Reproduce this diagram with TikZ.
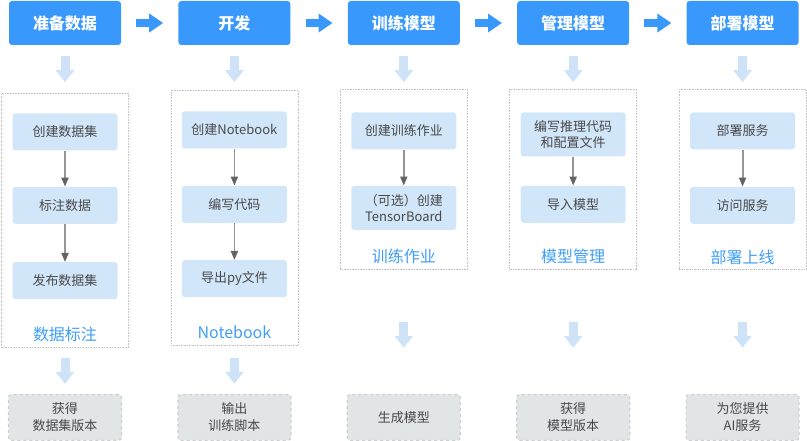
\documentclass[tikz,border=0pt]{standalone}
\usepackage{fontspec}
\setmainfont{Noto Sans CJK SC}
\usetikzlibrary{positioning,arrows.meta}
\usepackage{xcolor}
\definecolor{topblue}{RGB}{56,152,252}
\definecolor{boxblue}{RGB}{210,230,250}
\definecolor{fatblue}{RGB}{207,227,248}
\definecolor{labelblue}{RGB}{64,158,245}
\definecolor{textgray}{RGB}{72,72,72}
\definecolor{linegray}{RGB}{150,150,150}
\definecolor{tipgray}{RGB}{100,100,100}
\definecolor{panelgray}{RGB}{195,195,195}
\definecolor{outfill}{RGB}{226,229,229}
\definecolor{outline}{RGB}{205,208,208}

\begin{document}
\begin{tikzpicture}[x=1pt,y=1pt]
	\useasboundingbox (0,0) rectangle (807,-441);
	% 定义流程图具体形状
	\tikzstyle{stage} = [rectangle,fill=topblue,rounded corners=3pt,minimum width=112pt,minimum height=44pt,text=white,font=\fontsize{16}{19}\selectfont\bfseries]	% 定义阶段
	\tikzstyle{panel} = [rectangle,draw=panelgray,densely dotted,line width=0.6pt,minimum width=127pt,inner sep=0pt]	% 定义虚线框
	\tikzstyle{task} = [rectangle,fill=boxblue,rounded corners=3pt,minimum width=105pt,minimum height=37pt,text=textgray,align=center,font=\fontsize{13}{16.5}\selectfont]	% 定义步骤
	\tikzstyle{paneltitle} = [text=labelblue,inner sep=0pt,font=\fontsize{16}{19}\selectfont]	% 定义框标题
	\tikzstyle{result} = [rectangle,fill=outfill,draw=outline,dashed,line width=1.2pt,rounded corners=3pt,minimum width=113pt,minimum height=46pt,text=textgray,align=center,font=\fontsize{13}{17}\selectfont]	% 定义产出
	\tikzstyle{fatarrow} = [draw=fatblue,line width=9pt,-{Triangle[width=18pt,length=12pt]}]	% 定义粗箭头
	\tikzstyle{steparrow} = [fatarrow,draw=topblue,line width=8pt,-{Triangle[width=18pt,length=14pt]}]	% 定义阶段箭头
	\tikzstyle{arrow} = [draw=linegray,line width=1.8pt,-{Triangle[width=7pt,length=9pt,color=tipgray]}]	% 定义箭头
	\node (prep) [stage] at (65,-23) {准备数据};
	\node (dev) [stage,right=57pt of prep] {开发};
	\node (train) [stage,right=57pt of dev] {训练模型};
	\node (manage) [stage,right=57pt of train] {管理模型};
	\node (deploy) [stage,right=57pt of manage] {部署模型};
	
	% 虚线框
	\node (p1) [panel,minimum height=254pt,below=48pt of prep] {};
	\node (p2) [panel,minimum height=255pt,below=45pt of dev] {};
	\node (p3) [panel,minimum height=180pt,below=44pt of train] {};
	\node (p4) [panel,minimum height=180pt,below=44pt of manage] {};
	\node (p5) [panel,minimum height=180pt,below=44pt of deploy] {};
	
	% 数据标注
	\node (t11) [task,below=20pt of p1.north] {创建数据集};
	\node (t12) [task,below=36pt of t11] {标注数据};
	\node (t13) [task,below=38pt of t12] {发布数据集};
	\node (l1) [paneltitle,above=6pt of p1.south] {数据标注};
	% Notebook
	\node (t21) [task,below=21pt of p2.north] {创建Notebook};
	\node (t22) [task,below=37pt of t21] {编写代码};
	\node (t23) [task,below=37pt of t22] {导出py文件};
	\node (l2) [paneltitle,above=7pt of p2.south] {Notebook};
	% 训练作业
	\node (t31) [task,below=23pt of p3.north] {创建训练作业};
	\node (t32) [task,minimum height=44pt,below=36pt of t31] {（可选）创建\\TensorBoard};
	\node (l3) [paneltitle,above=6pt of p3.south] {训练作业};
	% 模型管理
	\node (t41) [task,minimum height=44pt,below=23pt of p4.north] {编写推理代码\\和配置文件};
	\node (t42) [task,below=29pt of t41] {导入模型};
	\node (l4) [paneltitle,above=6pt of p4.south] {模型管理};
	% 部署上线
	\node (t51) [task,below=23pt of p5.north] {部署服务};
	\node (t52) [task,below=37pt of t51] {访问服务};
	\node (l5) [paneltitle,above=5pt of p5.south] {部署上线};
	
	% 产出
	\node (r1) [result,below=46pt of p1] {获得\\数据集版本};
	\node (r2) [result,below=48pt of p2] {输出\\训练脚本};
	\node (r3) [result,below=124pt of p3] {生成模型};
	\node (r4) [result,below=124pt of p4] {获得\\模型版本};
	\node (r5) [result,below=124pt of p5] {为您提供\\AI服务};
	
	% 连接具体形状
	\draw [steparrow,shorten <=15pt,shorten >=15pt] (prep) -- (dev);
	\draw [steparrow,shorten <=15pt,shorten >=15pt] (dev) -- (train);
	\draw [steparrow,shorten <=15pt,shorten >=15pt] (train) -- (manage);
	\draw [steparrow,shorten <=15pt,shorten >=15pt] (manage) -- (deploy);
	\draw [fatarrow,shorten <=11pt,shorten >=11pt] (prep) -- (p1);
	\draw [fatarrow,shorten <=11pt,shorten >=8pt] (dev) -- (p2);
	\draw [fatarrow,shorten <=11pt,shorten >=7pt] (train) -- (p3);
	\draw [fatarrow,shorten <=11pt,shorten >=7pt] (manage) -- (p4);
	\draw [fatarrow,shorten <=11pt,shorten >=7pt] (deploy) -- (p5);
	\draw [arrow] (t11) -- (t12);
	\draw [arrow] (t12) -- (t13);
	\draw [arrow] (t21) -- (t22);
	\draw [arrow] (t22) -- (t23);
	\draw [arrow] (t31) -- (t32);
	\draw [arrow] (t41) -- (t42);
	\draw [arrow] (t51) -- (t52);
	\draw [fatarrow,shorten <=10pt,shorten >=10pt] (p1) -- (r1);
	\draw [fatarrow,shorten <=12pt,shorten >=10pt] (p2) -- (r2);
	\draw [fatarrow,shorten <=52pt,shorten >=46pt] (p3) -- (r3);
	\draw [fatarrow,shorten <=52pt,shorten >=46pt] (p4) -- (r4);
	\draw [fatarrow,shorten <=52pt,shorten >=46pt] (p5) -- (r5);
\end{tikzpicture}
\end{document}
